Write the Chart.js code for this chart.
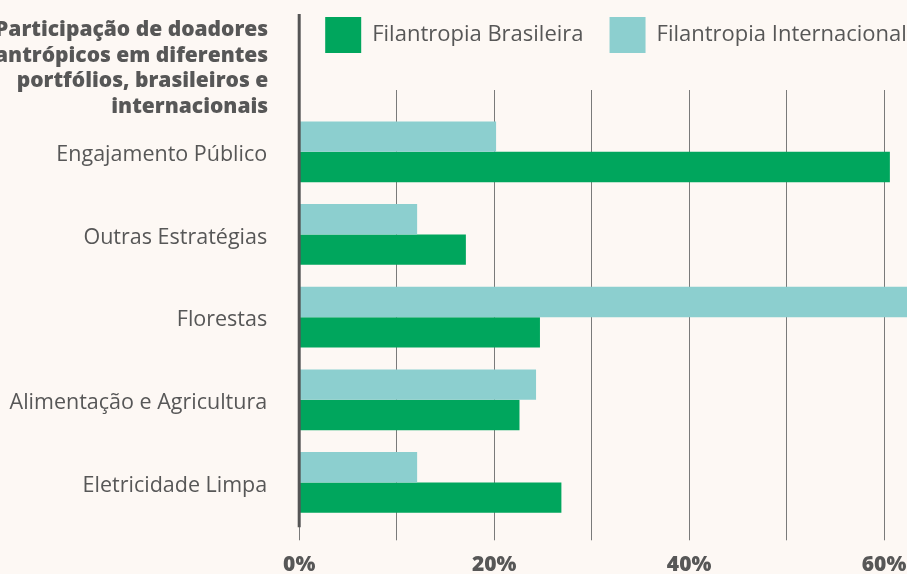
<!DOCTYPE html>
<html>
<head>
<meta charset="utf-8">
<script src="https://cdn.jsdelivr.net/npm/chart.js@4.4.1/dist/chart.umd.min.js"></script>
<style>
  html, body { margin: 0; padding: 0; background: #fdf8f4; overflow: hidden; width: 907px; height: 574px; }
  #wrap { position: absolute; left: 0; top: -9px; }
</style>
</head>
<body>
<div id="wrap"><canvas id="chart" width="1000" height="600"></canvas></div>
<script>
const categories = ['Engajamento Público', 'Outras Estratégias', 'Florestas', 'Alimentação e Agricultura', 'Eletricidade Limpa'];
const brasileira = [60.6, 17.1, 24.7, 22.6, 26.9];
const internacional = [20.2, 12.1, 64, 24.3, 12.1];
const labelledTicks = [0, 20, 40, 60];
const titleLines = ['Participação de doadores', 'filantrópicos em diferentes', 'portfólios, brasileiros e', 'internacionais'];

const textColor = '#575757';
const gridColor = '#7a7a7a';

// extra room under the legend
const legendGap = {
    id: 'legendGap',
    beforeInit(chart) {
        const fit = chart.legend.fit;
        chart.legend.fit = function() {
            fit.bind(chart.legend)();
            this.height += 27;
        };
    }
};

// title on the left + long zero line
const sideTitle = {
    id: 'sideTitle',
    afterDatasetsDraw(chart) {
        const ctx = chart.ctx;
        const x0 = chart.scales.x.getPixelForValue(0);
        ctx.save();
        ctx.strokeStyle = '#555';
        ctx.lineWidth = 3;
        ctx.beginPath();
        ctx.moveTo(x0, 23);
        ctx.lineTo(x0, chart.chartArea.bottom + 3.5);
        ctx.stroke();

        ctx.fillStyle = textColor;
        ctx.font = '800 21px "Open Sans"';
        ctx.textAlign = 'right';
        ctx.textBaseline = 'alphabetic';
        titleLines.forEach((line, i) => {
            ctx.fillText(line, x0 - 31, 45 + i * 25.7);
        });
        ctx.restore();
    }
};

const ctx = document.getElementById('chart').getContext('2d');
const chart = new Chart(ctx, {
    type: 'bar',
    data: {
        labels: categories,
        datasets: [{
            label: 'Filantropia Internacional',
            data: internacional,
            backgroundColor: '#8ccfcf',
            borderWidth: 0
        }, {
            label: 'Filantropia Brasileira',
            data: brasileira,
            backgroundColor: '#00a65d',
            borderWidth: 0
        }]
    },
    options: {
        indexAxis: 'y',
        responsive: false,
        animation: false,
        categoryPercentage: 0.735,
        barPercentage: 1,
        layout: { padding: { left: 0, right: 18.5, top: 0, bottom: 1.5 } },
        plugins: {
            tooltip: { enabled: false },
            legend: {
                position: 'top',
                align: 'start',
                fullSize: false,
                reverse: true,
                labels: {
                    boxWidth: 36,
                    boxHeight: 36,
                    padding: 26,
                    color: textColor,
                    font: { family: 'Open Sans', size: 22 }
                }
            }
        },
        scales: {
            x: {
                min: 0,
                max: 70,
                border: { display: false },
                grid: { color: gridColor, lineWidth: 1, tickLength: 16.5 },
                ticks: {
                    stepSize: 10,
                    padding: 12,
                    color: textColor,
                    font: { family: 'Open Sans', size: 21, weight: 800 },
                    callback: v => labelledTicks.includes(v) ? v + '%' : ''
                }
            },
            x2: {
                axis: 'x',
                position: 'top',
                min: 0,
                max: 70,
                border: { display: false },
                grid: { color: gridColor, lineWidth: 1, drawOnChartArea: false, tickLength: 20.5 },
                ticks: { display: false, stepSize: 10 }
            },
            y: {
                border: { display: false },
                grid: { display: false, drawTicks: false },
                ticks: {
                    padding: 32,
                    labelOffset: 3,
                    color: textColor,
                    font: { family: 'Open Sans', size: 21.5 }
                },
                afterFit: scale => { scale.width = 299.2; }
            }
        }
    },
    plugins: [legendGap, sideTitle]
});
</script>
</body>
</html>
